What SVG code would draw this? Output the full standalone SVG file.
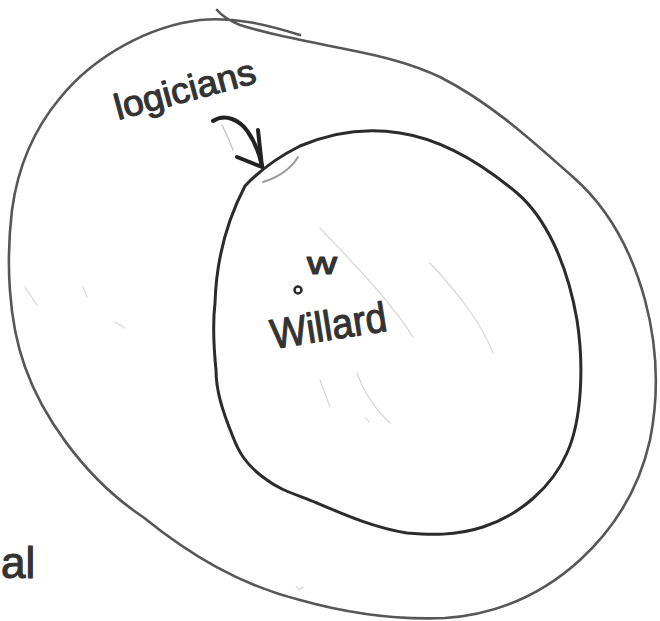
<svg xmlns="http://www.w3.org/2000/svg" width="660" height="621" viewBox="0 0 660 621">
<style>
.outer{fill:none;stroke:#575757;stroke-width:2.6;stroke-linecap:round;stroke-linejoin:round}
.inner{fill:none;stroke:#2b2b2b;stroke-width:3;stroke-linecap:round;stroke-linejoin:round}
.faint{fill:none;stroke:#d6d6d6;stroke-width:1.2;stroke-linecap:round}
.hand{font-family:"Liberation Sans","DejaVu Sans",sans-serif;fill:#333;stroke:#333;stroke-width:1.1;stroke-linejoin:round}
.arrow{fill:none;stroke:#222;stroke-width:4;stroke-linecap:round;stroke-linejoin:round}
</style>
<rect width="660" height="621" fill="#fff"/>
<g id="faint-marks">
<path class="faint" d="M320,228 C350,260 390,300 413,337"/>
<path class="faint" d="M430,263 C455,290 480,320 493,353"/>
<path class="faint" d="M320,380 L330,407"/>
<path class="faint" d="M357,373 C365,395 378,412 390,423"/>
<path class="faint" d="M25,287 L37,305"/>
<path class="faint" d="M83,287 L87,297"/>
<path class="faint" d="M115,322 L125,328"/>
<path class="faint" d="M296,586 l3,4 l4,-3"/>
<path class="faint" d="M366,418 l3,4"/>
</g>
<g id="outer-set">
<path class="outer" d="M300,35 C265,24 235,17 200,20 C150,26 95,55 60,98 C35,128 18,165 12,210 C6,260 8,320 25,367 C40,410 80,475 143,517 C190,555 240,585 300,600 C350,614 400,620 445,618 C500,614 545,592 580,560 C618,525 640,485 650,440 C660,390 657,345 645,300 C630,245 605,205 573,177 C540,148 495,105 440,77 C410,63 380,56 350,50 C300,40 265,33 240,25 C230,21 222,16 217,10"/>
<text class="hand" x="1" y="578" font-size="44">al</text>
</g>
<g id="inner-set">
<path class="inner" d="M300,146 C335,131 370,128 400,133 C440,139 480,162 517,193 C545,217 567,262 577,320 C584,365 582,420 567,453 C552,487 520,515 483,527 C455,536 430,535 407,533 C375,528 345,515 317,503 C295,494 280,490 267,480 C245,465 238,450 233,437 C222,410 216,390 216,370 C213,340 213,320 215,303 C216,270 222,230 245,186 C262,168 282,155 300,146 Z"/>
<path d="M263,182 C276,178 290,170 298,157" fill="none" stroke="#9a9a9a" stroke-width="2" stroke-linecap="round"/>
<text class="hand" x="118" y="120" font-size="36" textLength="145" lengthAdjust="spacingAndGlyphs" transform="rotate(-15 118 120)">logicians</text>
</g>
<g id="willard">
<circle cx="298" cy="290" r="3.5" fill="none" stroke="#2b2b2b" stroke-width="2.5"/>
<text class="hand" x="307" y="274" font-size="32" textLength="30" lengthAdjust="spacingAndGlyphs">w</text>
<text class="hand" x="273" y="349" font-size="42" textLength="117" lengthAdjust="spacingAndGlyphs" transform="rotate(-9 273 349)">Willard</text>
</g>
<g id="connectors">
<path d="M222,125 C226,133 230,142 233,150" fill="none" stroke="#c8c8c8" stroke-width="1.5" stroke-linecap="round"/>
<path class="arrow" d="M213,121 C225,113 240,120 248,132 C255,142 259,152 262,166"/>
<path class="arrow" d="M237,157 L262,167 M258,130 L262,167"/>
</g>
</svg>
